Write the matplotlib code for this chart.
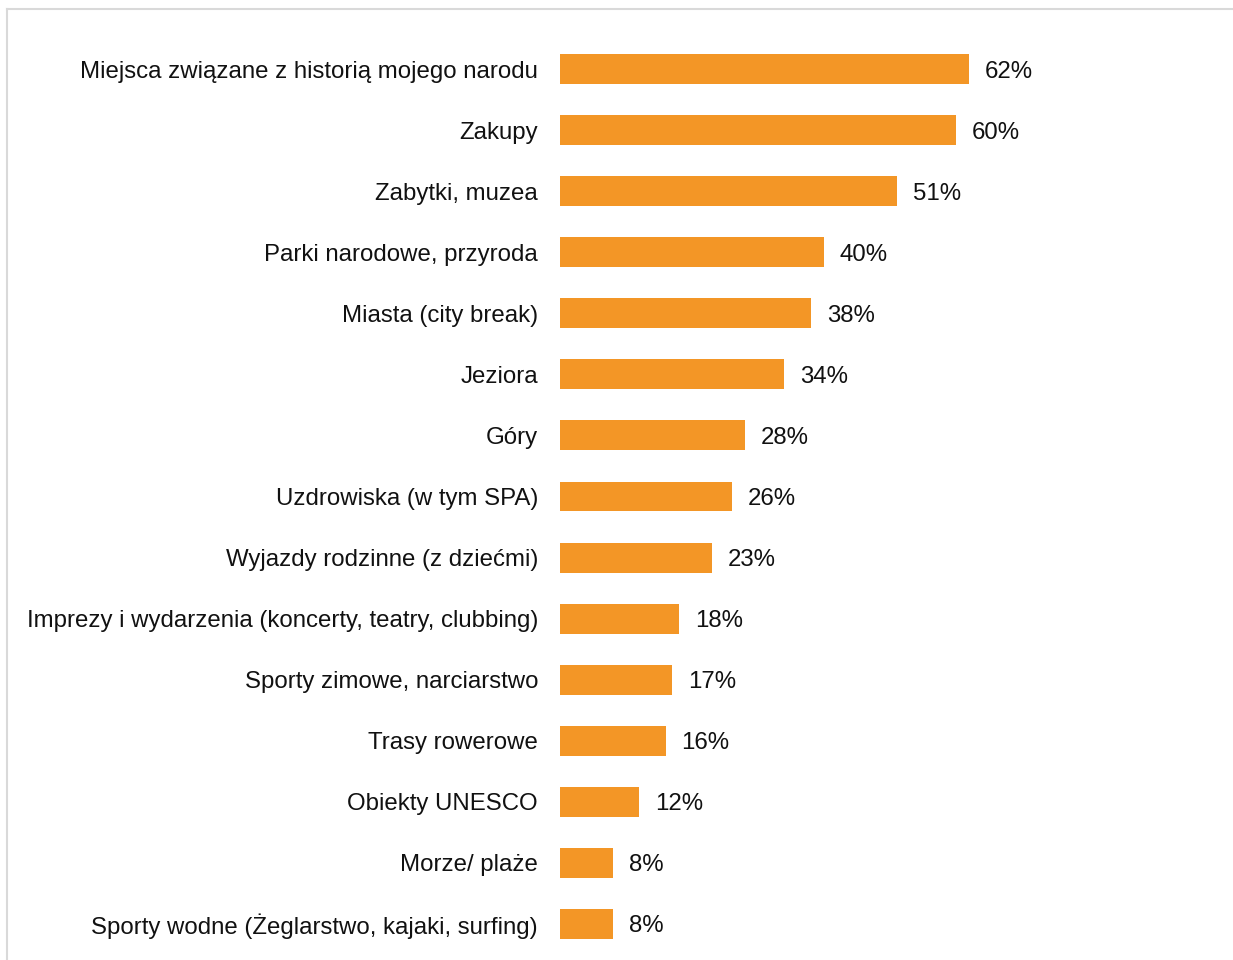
import matplotlib
matplotlib.use("Agg")
import matplotlib.pyplot as plt
from matplotlib.lines import Line2D

plt.rcParams['font.family'] = ['Liberation Sans', 'DejaVu Sans']

categories = [
    "Miejsca związane z historią mojego narodu",
    "Zakupy",
    "Zabytki, muzea",
    "Parki narodowe, przyroda",
    "Miasta (city break)",
    "Jeziora",
    "Góry",
    "Uzdrowiska (w tym SPA)",
    "Wyjazdy rodzinne (z dziećmi)",
    "Imprezy i wydarzenia (koncerty, teatry, clubbing)",
    "Sporty zimowe, narciarstwo",
    "Trasy rowerowe",
    "Obiekty UNESCO",
    "Morze/ plaże",
    "Sporty wodne (Żeglarstwo, kajaki, surfing)",
]
values = [62, 60, 51, 40, 38, 34, 28, 26, 23, 18, 17, 16, 12, 8, 8]

FS = 17.3
W, H = 1233, 960
fig = plt.figure(figsize=(W / 100, H / 100), dpi=100)
ax = fig.add_axes([560 / W, 5.5 / H, 660 / W, 916 / H])

pos = list(range(len(categories)))
ax.barh(pos, values, height=0.49, color='#F39626', edgecolor='none')

for p, v in zip(pos, values):
    ax.annotate(f"{v}%", xy=(v, p), xytext=(11.5, 0), textcoords='offset points',
                va='center_baseline', ha='left', fontsize=FS, color='#111111')

ax.set_xlim(0, 100)
ax.set_ylim(len(categories) - 0.5, -0.5)
ax.set_yticks(pos)
ax.set_yticklabels(categories, fontsize=FS, color='#111111', va='center_baseline')
ax.tick_params(axis='y', length=0, pad=15.8)
ax.set_xticks([])
for s in ax.spines.values():
    s.set_visible(False)

# thin frame along the top and left edges
fig.add_artist(Line2D([7 / W, 1], [1 - 9 / H, 1 - 9 / H], color='#d9d9d9', lw=1.5))
fig.add_artist(Line2D([7 / W, 7 / W], [0, 1 - 9 / H], color='#d9d9d9', lw=1.5))

fig.savefig("out.png", dpi=100)
